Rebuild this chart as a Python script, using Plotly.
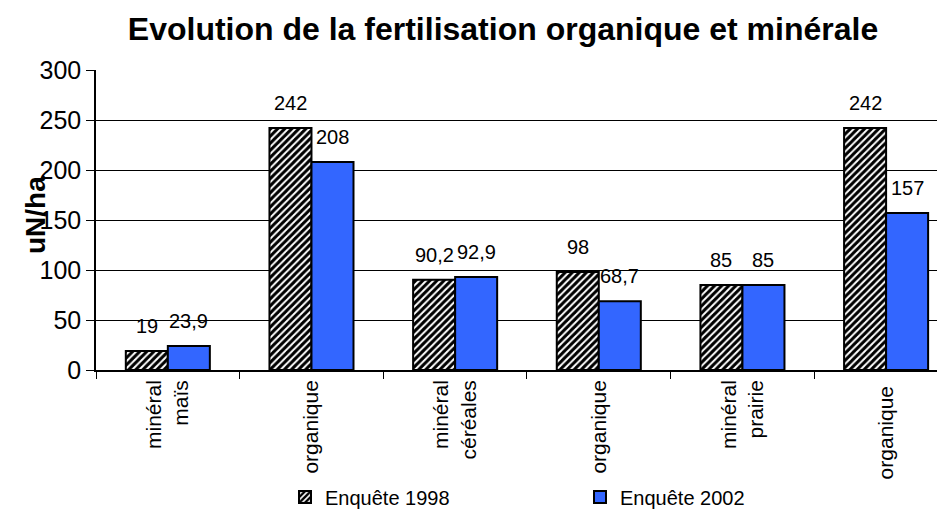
import plotly.graph_objects as go

categories = ["minéral<br>maïs", "organique", "minéral<br>céréales", "organique", "minéral<br>prairie", "organique "]
cat_keys = ["c0", "c1", "c2", "c3", "c4", "c5"]
values_1998 = [19, 242, 90.2, 98, 85, 242]
values_2002 = [23.9, 208, 92.9, 68.7, 85, 157]
labels_1998 = ["19", "242", "90,2", "98", "85", "242"]
labels_2002 = ["23,9", "208", "92,9", "68,7", "85", "157"]
series_names = ["Enquête 1998", "Enquête 2002"]
y_ticks = [0, 50, 100, 150, 200, 250, 300]

FONT = "Liberation Sans, Arial, sans-serif"
W, H = 937, 507  # page adds an 8px body margin

fig = go.Figure()
fig.add_trace(go.Bar(
    x=cat_keys, y=values_1998, name=series_names[0],
    marker=dict(color="white", line=dict(color="black", width=2),
                pattern=dict(shape="/", fgcolor="black", bgcolor="white", size=5,
                             solidity=0.6, fgopacity=1)),
))
fig.add_trace(go.Bar(
    x=cat_keys, y=values_2002, name=series_names[1],
    marker=dict(color="#3366FF", line=dict(color="black", width=2)),
))

annotations = []
for k, v, t in zip(cat_keys, values_1998, labels_1998):
    annotations.append(dict(x=k, y=v, xref="x", yref="y", text=t, showarrow=False,
                            xshift=-21, yshift=25, font=dict(family=FONT, size=20, color="black")))
for k, v, t in zip(cat_keys, values_2002, labels_2002):
    annotations.append(dict(x=k, y=v, xref="x", yref="y", text=t, showarrow=False,
                            xshift=21, yshift=25, font=dict(family=FONT, size=20, color="black")))
annotations.append(dict(x=(36 - 96) / 849, y=(370 - 215) / 300, xref="paper", yref="paper",
                        text="<b>uN/ha</b>", showarrow=False, textangle=-90,
                        xanchor="center", yanchor="middle",
                        font=dict(family=FONT, size=28, color="black")))

fig.update_layout(
    width=W, height=H,
    margin=dict(l=88, r=0, t=62, b=145, autoexpand=False),
    paper_bgcolor="white", plot_bgcolor="white",
    barmode="group", bargap=0.415, bargroupgap=0,
    title=dict(text="<b>Evolution de la fertilisation organique et minérale</b>",
               x=495 / W, xanchor="center", y=1 - 21 / H, yanchor="middle",
               xref="container", yref="container",
               font=dict(family=FONT, size=32, color="black")),
    showlegend=True,
    legend=dict(orientation="h", x=(285 - 96) / 849, xanchor="left",
                y=-(497 - 370) / 300, yanchor="middle",
                entrywidth=250, entrywidthmode="pixels",
                font=dict(family=FONT, size=20, color="black"),
                bgcolor="rgba(0,0,0,0)"),
    annotations=annotations,
    font=dict(family=FONT, color="black"),
)
fig.update_xaxes(
    type="category", range=[-0.5, 5.41], automargin=False,
    tickmode="array", tickvals=cat_keys, ticktext=categories,
    tickangle=-90, tickfont=dict(family=FONT, size=21, color="black"),
    showline=True, linecolor="black", linewidth=1.5,
    ticks="outside", tickson="boundaries", ticklen=7, tickcolor="black",
    showgrid=False, zeroline=False,
)
fig.update_yaxes(
    range=[0, 300], tickvals=y_ticks, automargin=False,
    tickfont=dict(family=FONT, size=25, color="black"),
    showline=True, linecolor="black", linewidth=1.5,
    ticks="outside", ticklen=8, tickcolor="black",
    showgrid=True, gridcolor="black", gridwidth=1,
    zeroline=False,
)

fig.write_html("out.html")
